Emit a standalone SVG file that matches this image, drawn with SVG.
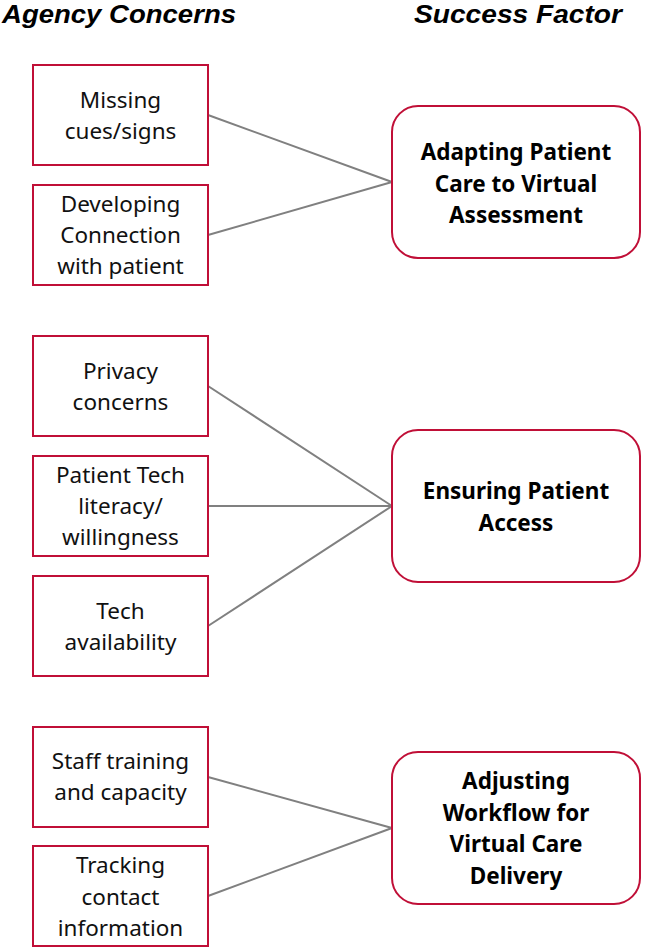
<svg xmlns="http://www.w3.org/2000/svg" width="645" height="948" viewBox="0 0 645 948">
<style>
.hd{font-family:"Liberation Sans",Arial,sans-serif;font-weight:bold;font-style:italic;font-size:25px;fill:#000}
.lb{fill:#fff;stroke:#C00F37;stroke-width:2}
.rb{fill:#fff;stroke:#C00F37;stroke-width:2}
.lt{font-family:"Noto Sans","Open Sans",sans-serif;font-size:22.5px;fill:#111;text-anchor:middle}
.rt{font-family:"Noto Sans","Open Sans",sans-serif;font-size:22.5px;font-weight:bold;fill:#000;text-anchor:middle}
.cn{stroke:#808080;stroke-width:2;fill:none}
</style>
<rect width="645" height="948" fill="#fff"/>
<text class="hd" x="2" y="22.5" textLength="234" lengthAdjust="spacingAndGlyphs">Agency Concerns</text>
<text class="hd" x="414" y="22.5" textLength="208" lengthAdjust="spacingAndGlyphs">Success Factor</text>
<g id="connectors">
<line class="cn" x1="208" y1="115" x2="392" y2="182"/>
<line class="cn" x1="208" y1="235" x2="392" y2="182"/>
<line class="cn" x1="208" y1="386" x2="392" y2="506"/>
<line class="cn" x1="208" y1="506" x2="392" y2="506"/>
<line class="cn" x1="208" y1="626" x2="392" y2="506"/>
<line class="cn" x1="208" y1="777" x2="392" y2="828"/>
<line class="cn" x1="208" y1="896" x2="392" y2="828"/>
</g>
<g id="n1"><rect class="lb" x="33" y="65" width="175" height="100"/>
<text class="lt" x="120.5" y="108">Missing</text><text class="lt" x="120.5" y="139">cues/signs</text></g>
<g id="n2"><rect class="lb" x="33" y="185" width="175" height="100"/>
<text class="lt" x="120.5" y="212">Developing</text><text class="lt" x="120.5" y="243">Connection</text><text class="lt" x="120.5" y="274">with patient</text></g>
<g id="n3"><rect class="lb" x="33" y="336" width="175" height="100"/>
<text class="lt" x="120.5" y="379">Privacy</text><text class="lt" x="120.5" y="410">concerns</text></g>
<g id="n4"><rect class="lb" x="33" y="456" width="175" height="100"/>
<text class="lt" x="120.5" y="483">Patient Tech</text><text class="lt" x="120.5" y="514">literacy/</text><text class="lt" x="120.5" y="545">willingness</text></g>
<g id="n5"><rect class="lb" x="33" y="576" width="175" height="100"/>
<text class="lt" x="120.5" y="619">Tech</text><text class="lt" x="120.5" y="650">availability</text></g>
<g id="n6"><rect class="lb" x="33" y="727" width="175" height="100"/>
<text class="lt" x="120.5" y="769">Staff training</text><text class="lt" x="120.5" y="800">and capacity</text></g>
<g id="n7"><rect class="lb" x="33" y="846" width="175" height="100"/>
<text class="lt" x="120.5" y="873">Tracking</text><text class="lt" x="120.5" y="905">contact</text><text class="lt" x="120.5" y="936">information</text></g>
<g id="s1"><rect class="rb" x="392" y="106" width="248" height="152" rx="26"/>
<text class="rt" x="516" y="160">Adapting Patient</text><text class="rt" x="516" y="192">Care to Virtual</text><text class="rt" x="516" y="223">Assessment</text></g>
<g id="s2"><rect class="rb" x="392" y="430" width="248" height="152" rx="26"/>
<text class="rt" x="516" y="499">Ensuring Patient</text><text class="rt" x="516" y="531">Access</text></g>
<g id="s3"><rect class="rb" x="392" y="752" width="248" height="152" rx="26"/>
<text class="rt" x="516" y="789">Adjusting</text><text class="rt" x="516" y="821">Workflow for</text><text class="rt" x="516" y="852">Virtual Care</text><text class="rt" x="516" y="884">Delivery</text></g>
</svg>
